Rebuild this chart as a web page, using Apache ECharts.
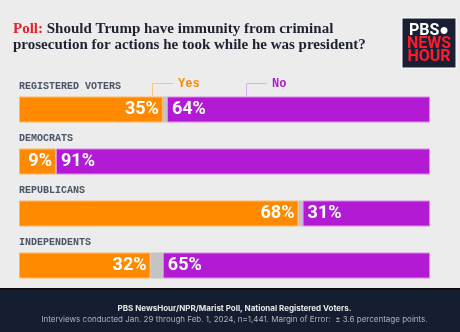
<!DOCTYPE html>
<html><head><meta charset="utf-8">
<script src="https://cdn.jsdelivr.net/npm/echarts@6/dist/echarts.min.js"></script>
<style>html,body{margin:0;padding:0;background:#ececec;}#c{width:460px;height:332px;}</style>
</head><body><div id="c"></div>
<script>
var categories = ['REGISTERED VOTERS', 'DEMOCRATS', 'REPUBLICANS', 'INDEPENDENTS'];
var yesValues = [35, 9, 68, 32];
var unsureValues = [1, 0, 1, 3];
var noValues = [64, 91, 31, 65];
var seriesNames = ['Yes', 'Unsure', 'No'];

var chart = echarts.init(document.getElementById('c'), null, {renderer: 'canvas'});
var pctLabel = function (p) { return p.value + '%'; };
var option = {
  backgroundColor: '#ececec',
  animation: false,
  grid: {left: 19, right: 30, top: 83.5, bottom: 40.5},
  xAxis: {type: 'value', min: 0, max: 100, show: false},
  yAxis: {
    type: 'category', data: categories, inverse: true,
    axisLine: {show: false}, axisTick: {show: false}, splitLine: {show: false},
    axisLabel: {
      inside: true, margin: 0, align: 'left', verticalAlign: 'bottom',
      padding: [0, 0, 17, 0], lineHeight: 12,
      fontFamily: 'Liberation Mono', fontWeight: 'bold', fontSize: 10, color: '#4b5566'
    }
  },
  series: [
    {name: seriesNames[0], type: 'bar', stack: 't', data: yesValues, barWidth: 26,
     itemStyle: {color: '#ff8a00', borderColor: '#ffb766', borderWidth: 1},
     label: {show: true, position: 'insideRight', distance: 4, formatter: pctLabel,
       color: '#fff', fontFamily: 'Roboto', fontWeight: 'bold', fontSize: 18}},
    {name: seriesNames[1], type: 'bar', stack: 't', data: unsureValues, barWidth: 26,
     itemStyle: {color: '#c4c4c4'}},
    {name: seriesNames[2], type: 'bar', stack: 't', data: noValues, barWidth: 26,
     itemStyle: {color: '#b31ad4', borderColor: '#d88aea', borderWidth: 1},
     label: {show: true, position: 'insideLeft', distance: 5, formatter: pctLabel,
       color: '#fff', fontFamily: 'Roboto', fontWeight: 'bold', fontSize: 18}}
  ],
  graphic: [
    {type: 'text', left: 13, top: 21, style: {
      text: '{r|Poll:} Should Trump have immunity from criminal\nprosecution for actions he took while he was president?',
      font: 'bold 15px "Liberation Serif"', fill: '#1e2230', lineHeight: 16,
      rich: {r: {fill: '#e8202a', font: 'bold 15px "Liberation Serif"', lineHeight: 16}}
    }},
    {type: 'rect', shape: {x: 402, y: 18, width: 54, height: 50}, style: {fill: '#1a2033', stroke: '#ffffff', lineWidth: 1}},
    {type: 'text', x: 429, y: 31, style: {text: 'PBS\u25CF', font: 'bold 16px Roboto', fill: '#ffffff', align: 'center', verticalAlign: 'middle'}},
    {type: 'text', x: 429, y: 44, style: {text: 'NEWS', font: 'bold 16px Roboto', fill: '#ff1a2e', align: 'center', verticalAlign: 'middle'}},
    {type: 'text', x: 429, y: 57, style: {text: 'HOUR', font: 'bold 16px Roboto', fill: '#ff1a2e', align: 'center', verticalAlign: 'middle'}},
    {type: 'polyline', shape: {points: [[152.5, 96], [152.5, 83.5], [173, 83.5]]}, style: {stroke: '#f8c48c', lineWidth: 1, fill: null}},
    {type: 'text', x: 178, y: 84, style: {text: 'Yes', font: 'bold 12px "Liberation Mono"', fill: '#ff8a00', verticalAlign: 'middle'}},
    {type: 'polyline', shape: {points: [[246.5, 96], [246.5, 83.5], [267, 83.5]]}, style: {stroke: '#dcaaea', lineWidth: 1, fill: null}},
    {type: 'text', x: 272, y: 84, style: {text: 'No', font: 'bold 12px "Liberation Mono"', fill: '#b31ad4', verticalAlign: 'middle'}},
    {type: 'rect', shape: {x: 0, y: 289, width: 460, height: 43}, style: {fill: '#151d30'}},
    {type: 'rect', shape: {x: 0, y: 288, width: 460, height: 1.5}, style: {fill: '#0a0a0a'}},
    {type: 'text', x: 234.5, y: 309, style: {text: 'PBS NewsHour/NPR/Marist Poll, National Registered Voters.', font: 'bold 8px Inter', fill: '#e6e6e6', align: 'center', verticalAlign: 'middle'}},
    {type: 'text', x: 234.5, y: 320, style: {text: 'Interviews conducted Jan. 29 through Feb. 1, 2024, n=1,441. Margin of Error:  \u00B1 3.6 percentage points.', font: '8px Inter', fill: '#b0b4bc', align: 'center', verticalAlign: 'middle'}}
  ]
};
chart.setOption(option);
</script></body></html>
